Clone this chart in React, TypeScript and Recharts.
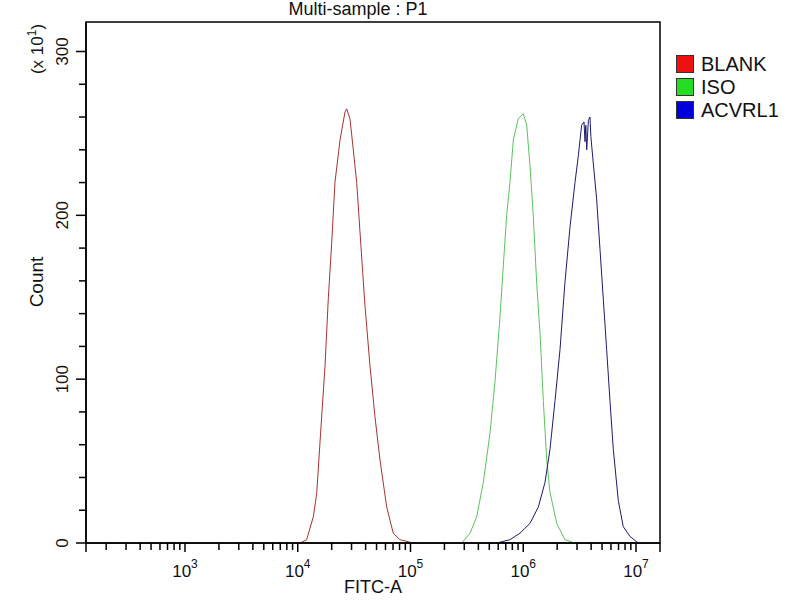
import React from "react";
import { LineChart, Line, XAxis, YAxis, ReferenceArea, Legend } from "recharts";

// x values are log10(FITC-A), y values are counts (x 10^1)
const blankX = [3.95, 4.02, 4.079, 4.138, 4.168, 4.212, 4.242, 4.271, 4.301, 4.33, 4.375, 4.419, 4.434, 4.463, 4.493, 4.523, 4.552, 4.596, 4.641, 4.685, 4.729, 4.789, 4.847, 4.907, 4.996];
const blankY = [0, 0, 2, 16, 30, 77, 108, 149, 183, 220, 246, 263, 265, 259, 240, 220, 190, 145, 108, 77, 51, 22, 6, 2, 0.5];

const isoX = [5.454, 5.528, 5.587, 5.646, 5.705, 5.749, 5.794, 5.823, 5.853, 5.882, 5.912, 5.956, 6.0, 6.031, 6.06, 6.089, 6.119, 6.149, 6.178, 6.208, 6.237, 6.297, 6.37, 6.459];
const isoY = [0, 6, 16, 37, 67, 98, 138, 169, 200, 220, 246, 259, 262, 255, 230, 200, 159, 128, 87, 51, 31, 12, 2, 0];

const acvX = [5.765, 5.882, 5.971, 6.06, 6.134, 6.193, 6.237, 6.282, 6.326, 6.37, 6.415, 6.459, 6.488, 6.518, 6.539, 6.548, 6.555, 6.563, 6.578, 6.592, 6.6, 6.621, 6.651, 6.681, 6.71, 6.74, 6.769, 6.799, 6.843, 6.887, 6.947, 7.02];
const acvY = [0, 2, 6, 12, 22, 37, 57, 87, 118, 159, 193, 220, 236, 255, 257, 245, 255, 240, 258, 260, 248, 232, 210, 179, 149, 118, 87, 57, 26, 10, 4, 0];

const seriesNames = ["BLANK", "ISO", "ACVRL1"];
const lineColors = ["#a83232", "#5cc25c", "#1c1c6e"];
const swatchColors = ["#ee1111", "#22dd22", "#0000dd"];

const xMin = 2.122;
const xMax = 7.213;
const decades = [2, 3, 4, 5, 6, 7];
const yTicks = [0, 20, 40, 60, 80, 100, 120, 140, 160, 180, 200, 220, 240, 260, 280, 300];

const zip = (xs: number[], ys: number[]) => xs.map((x, i) => ({ x, y: ys[i] }));
const blankData = zip(blankX, blankY);
const isoData = zip(isoX, isoY);
const acvData = zip(acvX, acvY);

const xTicks: number[] = [xMin];
decades.forEach((d) => {
  for (let k = 1; k <= 9; k++) {
    const v = d + Math.log10(k);
    if (v > xMin && v < xMax) xTicks.push(v);
  }
});
xTicks.push(xMax);

const font = "Liberation Sans, Arial, sans-serif";

const XTick = (props: any) => {
  const { x, y, payload } = props;
  const v = payload.value;
  const edge = Math.abs(v - xMin) < 1e-6 || Math.abs(v - xMax) < 1e-6;
  const major = !edge && Math.abs(v - Math.round(v)) < 1e-6;
  const len = edge || major ? 9 : 7;
  return (
    <g>
      <line x1={x} y1={y} x2={x} y2={y + len} stroke="#000" strokeWidth={1.5} />
      {major && (
        <text x={x} y={y + 34} textAnchor="middle" fontSize={17} fontFamily={font} fill="#111">
          <tspan>10</tspan>
          <tspan dy={-9} fontSize={12}>{Math.round(v)}</tspan>
        </text>
      )}
    </g>
  );
};

const YTick = (props: any) => {
  const { x, y, payload } = props;
  const v = payload.value;
  const major = v % 100 === 0;
  const len = major ? 10 : 7;
  return (
    <g>
      <line x1={x - len} y1={y} x2={x} y2={y} stroke="#000" strokeWidth={1.5} />
      {major && (
        <text x={x - 18} y={y} transform={`rotate(-90 ${x - 18} ${y})`} textAnchor="middle" fontSize={17} fontFamily={font} fill="#111">
          {v}
        </text>
      )}
    </g>
  );
};

const LegendBox = () => (
  <div style={{ fontFamily: font, fontSize: 20, color: "#111" }}>
    {seriesNames.map((name, i) => (
      <div key={name} style={{ display: "flex", alignItems: "center", height: 23 }}>
        <div style={{ width: 16, height: 16, background: swatchColors[i], border: "1px solid #333", marginRight: 7 }} />
        <span style={{ lineHeight: "20px" }}>{name}</span>
      </div>
    ))}
  </div>
);

const App = () => {
  return (
    <div style={{ position: "absolute", left: 0, top: 0, width: 800, height: 600, background: "#fff" }}>
      <LineChart width={800} height={600} margin={{ top: 22, right: 140, bottom: 0, left: 0 }}>
        <XAxis
          dataKey="x"
          type="number"
          domain={[xMin, xMax]}
          allowDataOverflow
          ticks={xTicks}
          interval={0}
          tick={<XTick />}
          tickLine={false}
          tickSize={0}
          tickMargin={0}
          height={57}
          axisLine={{ stroke: "#000", strokeWidth: 1.5 }}
          label={(p: any) => (
            <text x={373} y={593} textAnchor="middle" fontSize={18} fontFamily={font} fill="#111">
              FITC-A
            </text>
          )}
        />
        <YAxis
          type="number"
          domain={[0, 318]}
          allowDataOverflow
          ticks={yTicks}
          interval={0}
          tick={<YTick />}
          tickLine={false}
          tickSize={0}
          tickMargin={0}
          width={86}
          axisLine={{ stroke: "#000", strokeWidth: 1.5 }}
          label={(p: any) => (
            <text x={43} y={282} transform="rotate(-90 43 282)" textAnchor="middle" fontSize={19} fontFamily={font} fill="#111">
              Count
            </text>
          )}
        />
        <ReferenceArea x1={xMin} x2={xMax} y1={0} y2={318} fill="none" stroke="#000" strokeWidth={1.5} />
        <Line data={blankData} dataKey="y" name={seriesNames[0]} type="linear" stroke={lineColors[0]} strokeWidth={1} dot={false} isAnimationActive={false} />
        <Line data={isoData} dataKey="y" name={seriesNames[1]} type="linear" stroke={lineColors[1]} strokeWidth={1} dot={false} isAnimationActive={false} />
        <Line data={acvData} dataKey="y" name={seriesNames[2]} type="linear" stroke={lineColors[2]} strokeWidth={1} dot={false} isAnimationActive={false} />
        <Legend
          layout="vertical"
          align="center"
          verticalAlign="middle"
          content={<LegendBox />}
          wrapperStyle={{ left: 676, top: 52, width: 124 }}
        />
      </LineChart>
      <svg width={800} height={600} style={{ position: "absolute", left: 0, top: 0, pointerEvents: "none" }}>
        <text x={358} y={15} textAnchor="middle" fontSize={18} fontFamily={font} fill="#111">
          Multi-sample : P1
        </text>
        <text x={43} y={49} transform="rotate(-90 43 49)" textAnchor="middle" fontSize={17} fontFamily={font} fill="#111">
          <tspan>(x 10</tspan>
          <tspan dy={-7} fontSize={12}>1</tspan>
          <tspan dy={7}>)</tspan>
        </text>
      </svg>
    </div>
  );
};

export default App;
